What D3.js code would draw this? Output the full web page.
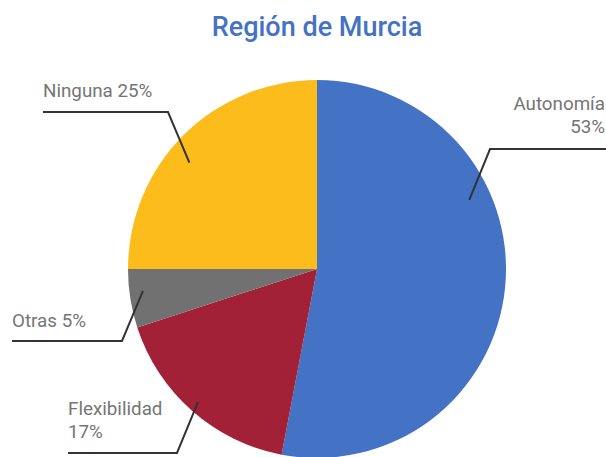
<!DOCTYPE html>
<html><head><meta charset="utf-8">
<script src="https://cdn.jsdelivr.net/npm/d3@7"></script>
<style>html,body{margin:0;padding:0;background:#fff;overflow:hidden}</style>
</head><body>
<svg id="c" width="606" height="457"></svg>
<script>
const title = "Región de Murcia";
const categories = ["Autonomía", "Flexibilidad", "Otras", "Ninguna"];
const values = [53, 17, 5, 25];
const colors = ["#4472C4", "#A32136", "#717171", "#FBBC1C"];

const svg = d3.select("#c");
const cx = 317, cy = 269, R = 189;

svg.append("text").attr("x", cx).attr("y", 36).attr("text-anchor", "middle")
  .attr("fill", "#4472C4").attr("font-family", "Roboto, sans-serif")
  .attr("font-weight", 500).attr("font-size", 27).text(title);

const pie = d3.pie().sort(null).value(d => d);
const arcs = pie(values);
const arc = d3.arc().innerRadius(0).outerRadius(R);
const g = svg.append("g").attr("transform", `translate(${cx},${cy})`);
g.selectAll("path").data(arcs).enter().append("path")
  .attr("d", arc).attr("fill", (d, i) => colors[i]);

// label layout: anchor inside slice (angle deg, radius fraction), elbow, line end, text
const layout = [
  {ang: 65.6, rf: 0.885, elbow: [490, 149], end: 606, side: "right", tx: 605, ty: [110, 133], lines: ["Autonomía", "53%"]},
  {ang: 221.8, rf: 0.945, elbow: [177, 453], end: 68, side: "left", tx: 68, ty: [415, 438], lines: ["Flexibilidad", "17%"]},
  {ang: 262.8, rf: 0.928, elbow: [122, 341], end: 12, side: "left", tx: 12, ty: [327], lines: ["Otras 5%"]},
  {ang: 309.8, rf: 0.879, elbow: [168, 112], end: 43, side: "left", tx: 43, ty: [97], lines: ["Ninguna 25%"]}
];
const lab = svg.append("g");
layout.forEach((L, i) => {
  const a = L.ang * Math.PI / 180;
  const px = cx + Math.sin(a) * R * L.rf, py = cy - Math.cos(a) * R * L.rf;
  lab.append("path").attr("d", d3.line()([[px, py], L.elbow, [L.end, L.elbow[1]]]))
    .attr("fill", "none").attr("stroke", "#333").attr("stroke-width", 2);
  L.lines.forEach((t, k) => {
    lab.append("text").attr("x", L.tx).attr("y", L.ty[k])
      .attr("text-anchor", L.side === "right" ? "end" : "start")
      .attr("fill", "#757575").attr("font-family", "Roboto, sans-serif")
      .attr("font-size", 18.8).text(t);
  });
});
</script>
</body></html>
